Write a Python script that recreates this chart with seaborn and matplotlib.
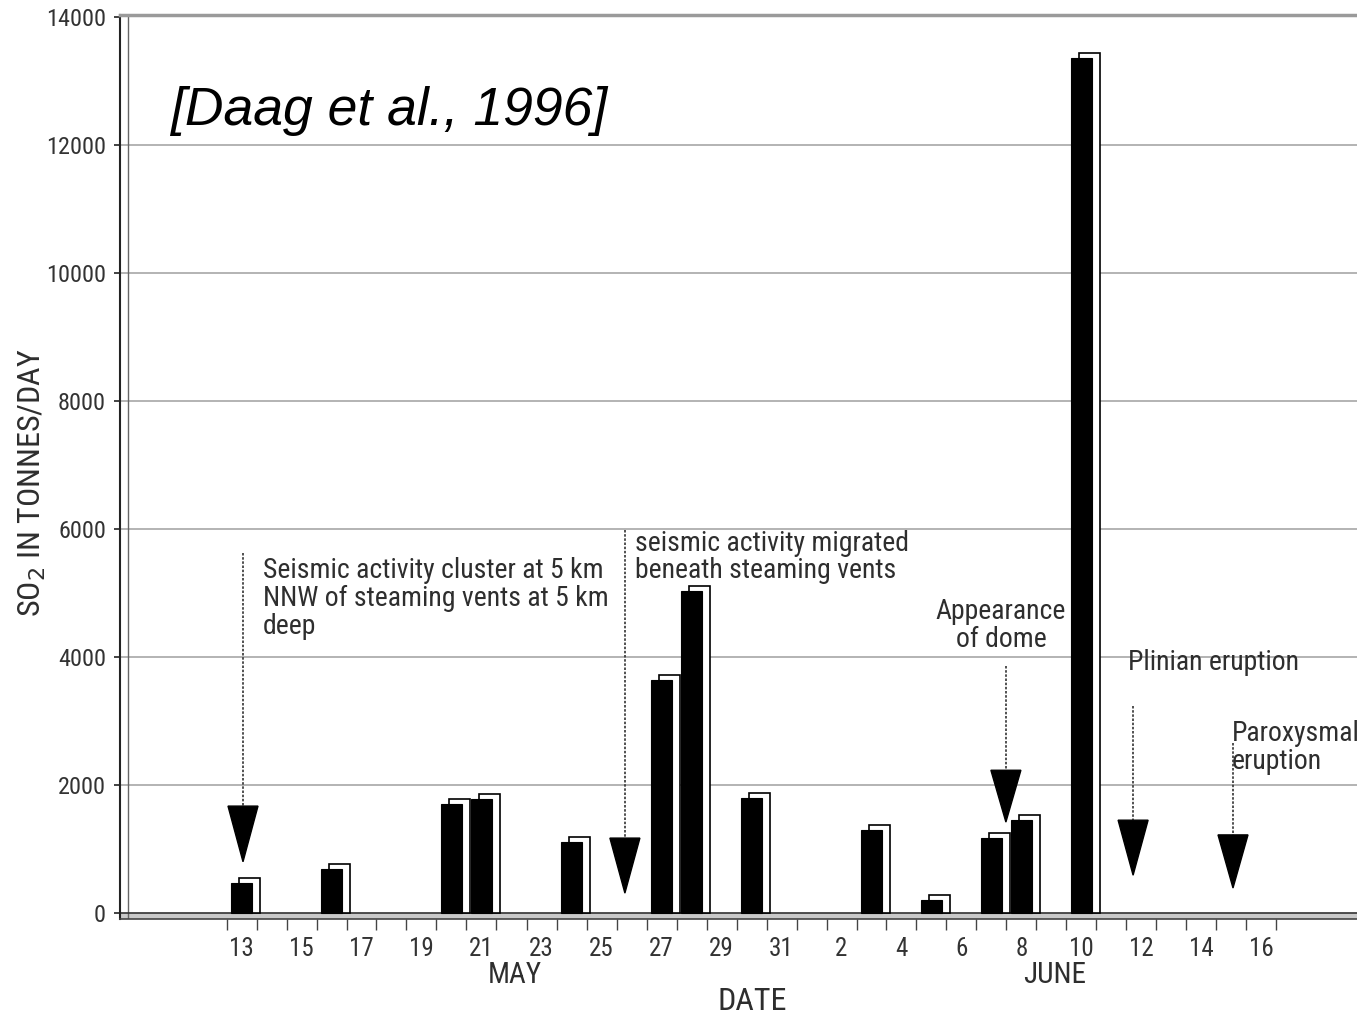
import numpy as np
import pandas as pd
import matplotlib
matplotlib.use("Agg")
import matplotlib.pyplot as plt
import seaborn as sns
from matplotlib.patches import Rectangle, Polygon
from matplotlib import font_manager as fm

# ---- data ----
bar_dates = ["1991-05-13", "1991-05-16", "1991-05-20", "1991-05-21", "1991-05-24",
             "1991-05-27", "1991-05-28", "1991-05-30", "1991-06-03", "1991-06-05",
             "1991-06-07", "1991-06-08", "1991-06-10"]
so2_tonnes = [470, 690, 1700, 1780, 1110, 3640, 5030, 1800, 1300, 200, 1170, 1450, 13360]

tick_dates = pd.date_range("1991-05-13", "1991-06-16", freq="2D")
y_ticks = [0, 2000, 4000, 6000, 8000, 10000, 12000, 14000]

origin = pd.Timestamp("1991-04-30")
df = pd.DataFrame({"day": (pd.to_datetime(bar_dates) - origin).days, "so2": so2_tonnes})
tick_pos = list((tick_dates - origin).days)
tick_lab = [str(d.day) for d in tick_dates]

# event arrows: x (day number), line top, arrowhead top, arrowhead tip (tonnes/day units)
events = [
    (13.05, 5625, 1670, 800),
    (25.78, 5985, 1170, 310),
    (38.48, 3860, 2230, 1420),
    (42.72, 3230, 1450, 590),
    (46.05, 2660, 1220, 390),
]

sns.set_theme(style="white")
names = {f.name for f in fm.fontManager.ttflist}
cands = ["DejaVu Sans Condensed", "Roboto Condensed", "Liberation Sans Narrow",
         "Arial Narrow", "Roboto", "DejaVu Sans"]
chosen = [c for c in cands if c in names]
main_font = chosen[0] if chosen else "DejaVu Sans"
plt.rcParams["font.family"] = [main_font, "DejaVu Sans"]

W, H = 1357, 1016
fig = plt.figure(figsize=(W / 100, H / 100), dpi=100)
ax = fig.add_axes([120 / W, (H - 919) / H, 1 - 120 / W, (919 - 15) / H])

sns.barplot(data=df, x="day", y="so2", native_scale=True, color="black",
            saturation=1, width=0.7, errorbar=None, ax=ax, zorder=3,
            edgecolor="black", linewidth=0.8)

# pseudo-3D shadow faces behind each bar
for p in list(ax.patches):
    x0, w, h = p.get_x(), p.get_width(), p.get_height()
    ax.add_patch(Rectangle((x0 + 0.27, 0), w, h + 80, facecolor="white",
                           edgecolor="black", lw=1.2, zorder=2))

ax.set_xlim(8.95, 8.95 + (W - 120) / 30)
ax.set_ylim(-94, 14030)

# grid
for yv in y_ticks[1:-1]:
    ax.axhline(yv, color="#b3b3b3", lw=1.4, zorder=0)
ax.axhspan(-94, 0, color="#c9c9c9", zorder=1)
ax.axhline(0, color="#333333", lw=1.2, zorder=1.5)
ax.axvline(9.22, color="#666666", lw=1.0, zorder=1)

ax.spines["right"].set_visible(False)
ax.spines["top"].set_color("#9a9a9a")
ax.spines["top"].set_linewidth(2.5)
ax.spines["left"].set_color("#222222")
ax.spines["left"].set_linewidth(1.5)
ax.spines["bottom"].set_color("#444444")
ax.spines["bottom"].set_linewidth(1.2)

ax.set_yticks(y_ticks)
ax.set_yticklabels([str(v) for v in y_ticks], fontsize=17.5, color="#333333")
ax.tick_params(axis="y", direction="out", length=4, width=1.2, color="#222222", pad=6, left=True)

ax.set_xticks(tick_pos)
ax.set_xticklabels(tick_lab, fontsize=18, color="#333333")
ax.set_xticks(np.arange(12.5, 48, 1.0), minor=True)
ax.tick_params(axis="x", which="major", length=0, pad=13, bottom=True)
ax.tick_params(axis="x", which="minor", direction="out", length=8, width=1.0,
               color="#444444", bottom=True)
ax.set_xlabel("")
ax.set_ylabel("")

# arrows
for x, ytop, ytri, ytip in events:
    ax.plot([x, x], [ytop, ytri], color="#333333", lw=1.2, ls=(0, (1.5, 1)), zorder=4)
    ax.add_patch(Polygon([[x - 0.5, ytri], [x + 0.5, ytri], [x, ytip]],
                         closed=True, facecolor="black", edgecolor="black", zorder=4))

txt = dict(fontsize=20, color="#2e2e2e", linespacing=1.04, zorder=5)
ax.text(13.72, 5560, "Seismic activity cluster at 5 km\nNNW of steaming vents at 5 km\ndeep",
        ha="left", va="top", **txt)
ax.text(26.12, 5990, "seismic activity migrated\nbeneath steaming vents",
        ha="left", va="top", **txt)
ax.text(38.32, 4920, "Appearance\nof dome", ha="center", va="top", multialignment="center", **txt)
ax.text(42.55, 3920, "Plinian eruption", ha="left", va="center", **txt)
ax.text(46.0, 3020, "Paroxysmal\neruption", ha="left", va="top", **txt)

# axis labels
fig.text(32 / W, 1 - 483 / H, "SO$_2$ IN TONNES/DAY", rotation=90, ha="center", va="center",
         fontsize=23, color="#2e2e2e")
fig.text(752 / W, 1 - 1001 / H, "DATE", ha="center", va="center", fontsize=23, color="#2e2e2e")
fig.text(515 / W, 1 - 975 / H, "MAY", ha="center", va="center", fontsize=21, color="#2e2e2e")
fig.text(1055 / W, 1 - 975 / H, "JUNE", ha="center", va="center", fontsize=21, color="#2e2e2e")

fig.text(170 / W, 1 - 125 / H, "[Daag et al., 1996]", ha="left", va="baseline",
         fontsize=38.5, style="italic", family=["Liberation Sans", "DejaVu Sans"], color="black")

fig.savefig("out.png", dpi=100)
